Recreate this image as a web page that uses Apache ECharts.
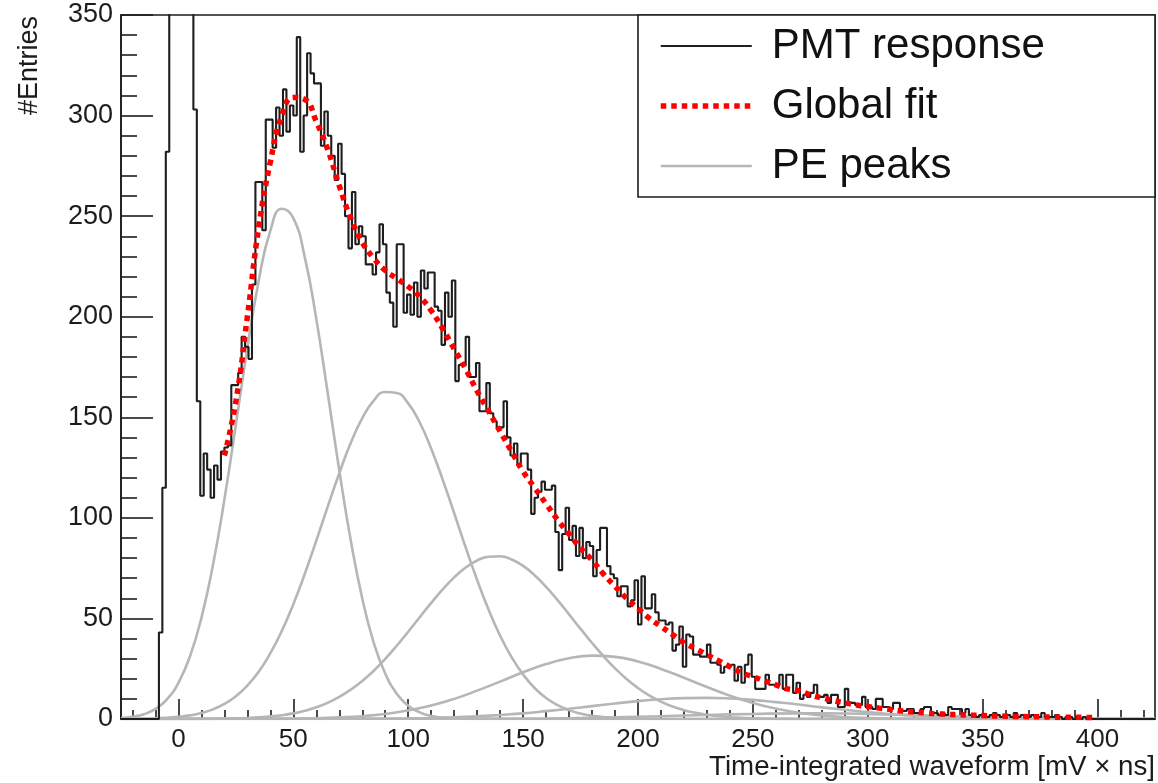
<!DOCTYPE html>
<html>
<head>
<meta charset="utf-8">
<title>PMT charge spectrum</title>
<script src="https://cdn.jsdelivr.net/npm/echarts@6/dist/echarts.min.js"></script>
<style>
  html, body { margin: 0; padding: 0; background: #ffffff; }
  #chart { width: 1158px; height: 783px; }
</style>
</head>
<body>
<div id="chart"></div>
<script>
// Axis ranges and tick values
const xMin = -25, xMax = 425;
const yMin = 0, yMax = 350, yStep = 50;
const xMajorTicks = [0, 50, 100, 150, 200, 250, 300, 350, 400];
const xMinorTicks = [-20, -10, 10, 20, 30, 40, 60, 70, 80, 90, 110, 120, 130, 140,
  160, 170, 180, 190, 210, 220, 230, 240, 260, 270, 280, 290, 310, 320, 330, 340,
  360, 370, 380, 390, 410, 420];

// Histogram: 300 bins of 1.5 mV x ns starting at -25
const binStart = -25, binWidth = 1.5;
const entries = [
  0, 0, 0, 0, 0, 0, 0, 0, 0, 0, 0, 43, 115, 282, 900, 2600, 4800, 5600, 4400, 2300,
  850, 303, 158, 111, 132, 124, 110, 126, 119, 133, 135, 136, 166, 166, 172, 190, 185, 179, 216, 267,
  267, 243, 298, 298, 284, 304, 290, 313, 292, 305, 300, 339, 282, 300, 331, 321, 316, 316, 285, 302,
  290, 280, 268, 286, 271, 250, 234, 262, 236, 245, 240, 226, 226, 221, 232, 246, 236, 212, 207, 195,
  236, 236, 202, 211, 201, 217, 200, 223, 214, 222, 222, 205, 203, 186, 212, 200, 218, 168, 176, 176,
  190, 170, 170, 177, 153, 153, 167, 152, 148, 145, 145, 158, 140, 131, 137, 126, 132, 132, 124, 102,
  110, 113, 118, 114, 114, 116, 93, 74, 92, 105, 89, 96, 81, 95, 80, 88, 86, 71, 84, 95,
  95, 76, 72, 70, 61, 66, 66, 56, 59, 69, 47, 71, 55, 55, 62, 53, 49, 49, 47, 48,
  34, 37, 46, 26, 42, 41, 32, 32, 31, 31, 37, 28, 28, 27, 23, 26, 26, 27, 19, 26,
  18, 27, 32, 21, 15, 15, 15, 22, 17, 17, 17, 22, 15, 22, 22, 13, 18, 10, 12, 11,
  13, 17, 11, 11, 12, 8, 12, 12, 6, 6, 15, 8, 8, 7, 7, 11, 6, 6, 5, 10,
  10, 6, 6, 5, 8, 8, 4, 4, 5, 5, 3, 3, 5, 6, 6, 3, 3, 2, 3, 2,
  6, 5, 5, 5, 3, 5, 2, 2, 1, 2, 2, 1, 2, 3, 2, 1, 2, 2, 1, 3,
  1, 2, 1, 1, 2, 1, 1, 3, 1, 1, 1, 2, 1, 0, 1, 1, 0, 1, 0, 1,
  0, 0, 0, 0, 0, 0, 0, 0, 0, 0, 0, 0, 0, 0, 0, 0, 0, 0, 0, 0
];

// Global fit, sampled every 5 mV x ns from 20 to 400
const fitStart = 20, fitStep = 5;
const fitValues = [
  131, 158, 200, 245, 277, 300, 309, 308, 297, 283, 265, 249, 237, 229, 223, 219, 215, 210, 203, 194,
  184, 174, 163, 153, 143, 133, 123, 115, 107, 99, 92, 85, 79, 72, 66, 60, 55, 50, 46, 42,
  38, 35, 32, 29, 26, 23, 21, 19, 17, 15, 14, 12, 10.5, 9.2, 8.0, 7.0, 6.2, 5.4, 4.7, 4.0,
  3.5, 3.0, 2.6, 2.3, 2.1, 1.9, 1.7, 1.5, 1.4, 1.25, 1.15, 1.05, 0.95, 0.9, 0.85, 0.8, 0.75
];

// Individual photo-electron peaks (start, sampling step, values)
const pe1Start = -25, pe1Step = 5;
const pe1 = [0.5, 1.1, 2.4, 5.0, 9.8, 18.0, 31.1, 50.3, 76.4, 109.1, 146.4, 184.4, 218.3, 242.8, 253.7,
  249.0, 229.5, 198.8, 161.8, 123.6, 88.8, 59.9, 37.9, 22.6, 12.6, 6.6, 3.3, 1.5, 0.7, 0.3, 0.1, 0];
const pe2Start = -25, pe2Step = 5;
const pe2 = [0.05, 0.1, 0.2, 0.3, 0.6, 1.1, 1.8, 3.0, 4.8, 7.5, 11.3, 16.6, 23.6, 32.7, 43.8, 57.1,
  72.2, 88.7, 105.7, 122.2, 137.3, 149.6, 158.3, 162.6, 162.1, 156.9, 147.4, 134.4, 119.0, 102.3,
  85.3, 69.1, 54.3, 41.4, 30.7, 22.1, 15.4, 10.4, 6.9, 4.4, 2.7, 1.6, 1.0, 0.5, 0.3, 0.2, 0.1, 0];
const pe3Start = 0, pe3Step = 5;
const pe3 = [0.02, 0.04, 0.07, 0.13, 0.2, 0.3, 0.5, 0.8, 1.3, 1.9, 2.8, 4.1, 5.8, 8.1, 11.0, 14.6,
  18.9, 24.0, 29.9, 36.4, 43.4, 50.6, 57.7, 64.4, 70.4, 75.3, 78.8, 80.7, 80.9, 79.3, 76.1, 71.5,
  65.7, 59.1, 52.0, 44.8, 37.8, 31.2, 25.2, 19.9, 15.4, 11.6, 8.6, 6.2, 4.4, 3.1, 2.1, 1.4, 0.9,
  0.6, 0.4, 0.2, 0.1, 0.05, 0];
const pe4Start = 40, pe4Step = 10;
const pe4 = [0.1, 0.2, 0.4, 0.8, 1.4, 2.5, 4.3, 6.7, 10.0, 14.1, 18.6, 23.2, 27.3, 30.2, 31.5,
  30.9, 28.6, 24.9, 20.5, 15.9, 11.6, 8.0, 5.2, 3.1, 1.8, 1.0, 0.5, 0.2, 0.1, 0];
const pe5Start = 80, pe5Step = 10;
const pe5 = [0.1, 0.2, 0.3, 0.5, 0.8, 1.3, 2.0, 2.8, 3.9, 5.1, 6.4, 7.7, 8.9, 9.8, 10.4, 10.5,
  10.2, 9.5, 8.4, 7.2, 5.8, 4.6, 3.4, 2.4, 1.7, 1.1, 0.7, 0.4, 0.2, 0.1, 0.1, 0];
const pe6Start = 150, pe6Step = 20;
const pe6 = [0.2, 0.4, 0.8, 1.4, 2.0, 2.5, 2.8, 2.7, 2.2, 1.6, 1.0, 0.6, 0.3, 0.1];

const FONT = '"Liberation Sans", Arial, Helvetica, sans-serif';
const INK = '#1c1c1c';
const FIT_DASH = [5.5, 5];

// Build (x, y) pairs from a sampled curve, padded with zero at the axis ends
function curvePoints(start, step, values) {
  const pts = values.map((v, i) => [start + i * step, v]);
  if (pts[0][0] > xMin) pts.unshift([xMin, 0]);
  if (pts[pts.length - 1][0] < xMax) pts.push([xMax, 0]);
  return pts;
}

// Histogram outline: one point per left bin edge, closed at the last right edge
const histPoints = entries.map((v, i) => [binStart + i * binWidth, v]);
histPoints.push([binStart + entries.length * binWidth, entries[entries.length - 1]]);

const fitPoints = fitValues.map((v, i) => [fitStart + i * fitStep, v]);

const peakSets = [
  [pe1Start, pe1Step, pe1], [pe2Start, pe2Step, pe2], [pe3Start, pe3Step, pe3],
  [pe4Start, pe4Step, pe4], [pe5Start, pe5Step, pe5], [pe6Start, pe6Step, pe6]
];

const peakSeries = peakSets.map(([s, st, vals]) => ({
  name: 'PE peaks',
  type: 'line',
  xAxisIndex: 0,
  yAxisIndex: 0,
  data: curvePoints(s, st, vals),
  smooth: true,
  symbol: 'none',
  lineStyle: { color: '#b6b6b6', width: 2.6 },
  itemStyle: { color: '#b6b6b6' },
  z: 2,
  silent: true
}));

const axisLineStyle = { color: INK, width: 1.6 };

const option = {
  animation: false,
  backgroundColor: '#ffffff',
  grid: {
    left: 121, right: 3, top: 15, bottom: 64,
    show: true, borderColor: INK, borderWidth: 1.6,
    containLabel: false, outerBoundsMode: 'none'
  },
  xAxis: [
    {
      type: 'value', min: xMin, max: xMax, position: 'bottom',
      axisLine: { show: true, onZero: false, lineStyle: axisLineStyle },
      axisTick: { show: true, inside: true, length: 20, customValues: xMajorTicks, lineStyle: axisLineStyle },
      minorTick: { show: false },
      axisLabel: { customValues: xMajorTicks, fontSize: 26, color: INK, margin: 8, fontFamily: FONT },
      splitLine: { show: false }
    },
    {
      type: 'value', min: xMin, max: xMax, position: 'bottom',
      axisLine: { show: false, onZero: false },
      axisTick: { show: true, inside: true, length: 9, customValues: xMinorTicks, lineStyle: axisLineStyle },
      minorTick: { show: false },
      axisLabel: { show: false },
      splitLine: { show: false }
    }
  ],
  yAxis: {
    type: 'value', min: yMin, max: yMax, interval: yStep,
    axisLine: { show: true, onZero: false, lineStyle: axisLineStyle },
    axisTick: { show: true, inside: true, length: 32, lineStyle: axisLineStyle },
    minorTick: { show: true, splitNumber: 5, length: 16, lineStyle: axisLineStyle },
    axisLabel: { fontSize: 27, color: INK, margin: 8, fontFamily: FONT },
    splitLine: { show: false }
  },
  legend: {
    data: [
      { name: 'PMT response', lineStyle: { width: 2 } },
      { name: 'Global fit', lineStyle: { width: 5.5, type: FIT_DASH } },
      { name: 'PE peaks', lineStyle: { width: 2.6 } }
    ],
    orient: 'vertical',
    left: 658, top: 23,
    padding: 0,
    itemWidth: 91, itemHeight: 14, itemGap: 14,
    selectedMode: false,
    itemStyle: { opacity: 0 },
    textStyle: { fontSize: 42, lineHeight: 46, color: '#111', fontFamily: FONT, padding: [0, 0, 0, 15] },
    z: 6
  },
  graphic: [
    {
      type: 'rect', z: 5,
      shape: { x: 638, y: 15, width: 517, height: 182 },
      style: { fill: '#ffffff', stroke: INK, lineWidth: 1.6 }
    },
    {
      type: 'text', z: 6, x: 30, y: 16, rotation: Math.PI / 2,
      style: {
        text: '#Entries', fill: INK, font: '27px ' + FONT,
        align: 'right', verticalAlign: 'middle', textAlign: 'right', textVerticalAlign: 'middle'
      }
    },
    {
      type: 'text', z: 6, x: 1155, y: 767,
      style: {
        text: 'Time-integrated waveform [mV \u00d7 ns]', fill: INK, font: '27.7px ' + FONT,
        align: 'right', verticalAlign: 'middle', textAlign: 'right', textVerticalAlign: 'middle'
      }
    }
  ],
  series: peakSeries.concat([
    {
      name: 'PMT response',
      type: 'line',
      data: histPoints,
      step: 'end',
      symbol: 'none',
      clip: true,
      lineStyle: { color: '#1e1e1e', width: 2.1 },
      itemStyle: { color: '#1e1e1e' },
      z: 3
    },
    {
      name: 'Global fit',
      type: 'line',
      data: fitPoints,
      smooth: true,
      symbol: 'none',
      lineStyle: { color: '#ff0000', width: 5.5, type: FIT_DASH },
      itemStyle: { color: '#ff0000' },
      z: 4
    }
  ])
};

const chart = echarts.init(document.getElementById('chart'), null, { renderer: 'canvas' });
chart.setOption(option);
</script>
</body>
</html>
